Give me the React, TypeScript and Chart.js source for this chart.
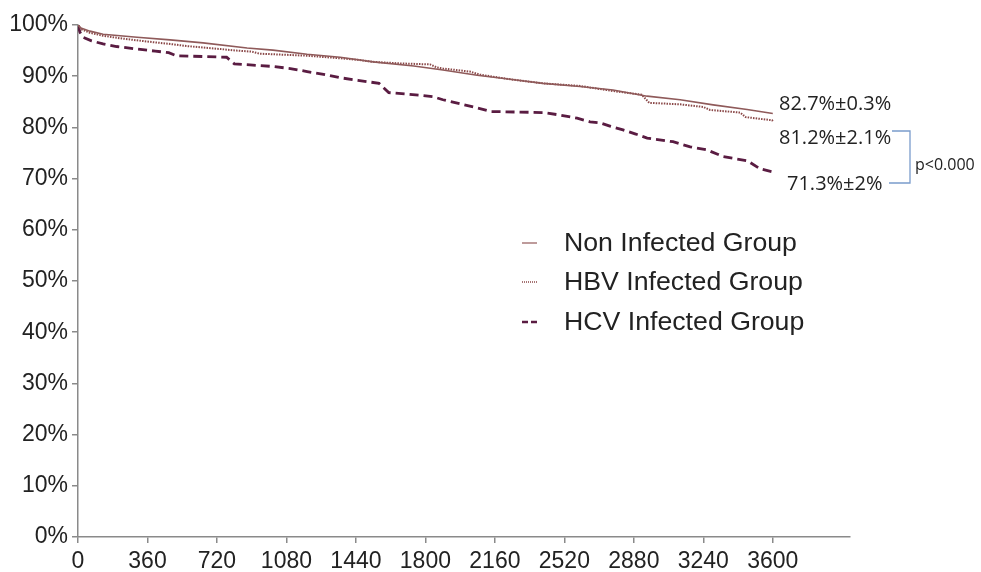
import React, { useEffect, useRef } from 'react';
import { Chart, registerables } from 'chart.js';

Chart.register(...registerables);

// ---- Data ----
const xTickValues = [0, 360, 720, 1080, 1440, 1800, 2160, 2520, 2880, 3240, 3600];
const yTickValues = [0, 10, 20, 30, 40, 50, 60, 70, 80, 90, 100];

const nonInfectedDays = [0, 15, 62, 130, 306, 477, 648, 876, 1010, 1187, 1358, 1529, 1740, 1891, 2068, 2239, 2410, 2601, 2772, 2949, 3120, 3291, 3467, 3600];
const nonInfectedSurv = [100, 99.4, 98.8, 98.2, 97.6, 97.1, 96.5, 95.5, 95.1, 94.3, 93.7, 92.8, 92.0, 91.2, 90.2, 89.4, 88.6, 88.0, 87.3, 86.1, 85.4, 84.4, 83.5, 82.7];

const hbvDays = [0, 20, 60, 130, 220, 306, 400, 477, 560, 648, 740, 824, 900, 940, 1187, 1358, 1450, 1529, 1669, 1824, 1860, 1891, 2031, 2083, 2239, 2410, 2601, 2772, 2920, 2960, 3120, 3239, 3275, 3431, 3460, 3596, 3600];
const hbvSurv = [100, 99.1, 98.5, 97.9, 97.4, 97.0, 96.6, 96.3, 95.9, 95.6, 95.3, 95.0, 94.8, 94.4, 94.0, 93.5, 93.2, 92.8, 92.5, 92.3, 91.7, 91.5, 90.9, 90.3, 89.4, 88.6, 88.1, 87.1, 86.4, 84.8, 84.5, 84.0, 83.4, 82.9, 82.0, 81.4, 81.2];

const hcvDays = [0, 10, 26, 70, 130, 200, 306, 400, 470, 510, 770, 810, 891, 1010, 1100, 1187, 1280, 1358, 1450, 1560, 1610, 1772, 1840, 1891, 1980, 2068, 2140, 2410, 2500, 2586, 2653, 2705, 2760, 2824, 2890, 2949, 3083, 3172, 3260, 3342, 3467, 3535, 3600];
const hcvSurv = [100, 98.6, 97.6, 96.9, 96.3, 95.8, 95.3, 94.9, 94.6, 94.0, 93.7, 92.4, 92.2, 91.9, 91.5, 90.9, 90.3, 89.7, 89.2, 88.6, 86.8, 86.3, 86.0, 85.4, 84.6, 83.8, 83.1, 82.9, 82.4, 81.8, 81.1, 80.9, 80.2, 79.5, 78.7, 77.9, 77.2, 76.2, 75.6, 74.3, 73.5, 71.9, 71.3];

const seriesLabels = ['Non Infected Group', 'HBV Infected Group', 'HCV Infected Group'];
const endLabels = ['82.7%±0.3%', '81.2%±2.1%', '71.3%±2%'];
const pValueLabel = 'p<0.000';

const toPoints = (xs: number[], ys: number[]) => xs.map((x, i) => ({ x, y: ys[i] }));

const COLORS = {
  non: '#8f5a5a',
  nonLegend: '#a87a7a',
  hbv: '#8a4848',
  hcv: '#5a1c42',
  axis: '#8a8a8a',
  text: '#222222',
  bracket: '#7a9ccc',
};

const AXIS_FONT = 'Liberation Sans, Arial, sans-serif';
const NOTE_FONT = 'Open Sans, Noto Sans, sans-serif';

const overlayPlugin = {
  id: 'overlay',
  afterDraw(chart: any) {
    const ctx = chart.ctx as CanvasRenderingContext2D;
    ctx.save();
    // Legend
    const rows = [243, 282, 322];
    ctx.font = `26.7px ${AXIS_FONT}`;
    ctx.fillStyle = COLORS.text;
    ctx.textBaseline = 'middle';
    ctx.textAlign = 'left';
    rows.forEach((y, i) => {
      ctx.save();
      ctx.beginPath();
      if (i === 0) {
        ctx.strokeStyle = COLORS.nonLegend;
        ctx.lineWidth = 1.5;
        ctx.setLineDash([]);
      } else if (i === 1) {
        ctx.strokeStyle = COLORS.hbv;
        ctx.lineWidth = 1.5;
        ctx.setLineDash([1, 1]);
      } else {
        ctx.strokeStyle = COLORS.hcv;
        ctx.lineWidth = 2.5;
        ctx.setLineDash([6, 3]);
      }
      ctx.moveTo(522, y);
      ctx.lineTo(537, y);
      ctx.stroke();
      ctx.restore();
      ctx.fillText(seriesLabels[i], 564, y + 1);
    });

    // End labels
    ctx.font = `20px ${NOTE_FONT}`;
    ctx.fillText(endLabels[0], 779, 104);
    ctx.fillText(endLabels[1], 779, 138);
    ctx.fillText(endLabels[2], 787, 184);

    // Bracket
    ctx.beginPath();
    ctx.strokeStyle = COLORS.bracket;
    ctx.lineWidth = 1.3;
    ctx.setLineDash([]);
    ctx.moveTo(892, 131);
    ctx.lineTo(910, 131);
    ctx.lineTo(910, 183);
    ctx.lineTo(889, 183);
    ctx.stroke();

    ctx.font = `16px ${NOTE_FONT}`;
    ctx.fillStyle = COLORS.text;
    ctx.fillText(pValueLabel, 915, 165);
    ctx.restore();
  },
};

export default function App() {
  const canvasRef = useRef<HTMLCanvasElement | null>(null);

  useEffect(() => {
    document.body.style.margin = '0';
    const canvas = canvasRef.current;
    if (!canvas) return;
    const chart = new Chart(canvas, {
      type: 'line',
      data: {
        datasets: [
          {
            label: seriesLabels[0],
            data: toPoints(nonInfectedDays, nonInfectedSurv),
            borderColor: COLORS.non,
            borderWidth: 1.6,
            pointRadius: 0,
            fill: false,
            tension: 0,
          },
          {
            label: seriesLabels[1],
            data: toPoints(hbvDays, hbvSurv),
            borderColor: COLORS.hbv,
            borderWidth: 2,
            borderDash: [1.5, 1.2],
            pointRadius: 0,
            fill: false,
            tension: 0,
          },
          {
            label: seriesLabels[2],
            data: toPoints(hcvDays, hcvSurv),
            borderColor: COLORS.hcv,
            borderWidth: 2.8,
            borderDash: [9, 5],
            pointRadius: 0,
            fill: false,
            tension: 0,
          },
        ],
      },
      options: {
        animation: false,
        responsive: false,
        devicePixelRatio: 1,
        layout: { padding: { left: 0, top: 25, right: 131, bottom: 0 } },
        plugins: {
          legend: { display: false },
          tooltip: { enabled: false },
        },
        scales: {
          x: {
            type: 'linear',
            min: 0,
            max: 4000,
            afterBuildTicks: (scale: any) => {
              scale.ticks = xTickValues.map((v) => ({ value: v }));
            },
            afterFit: (scale: any) => {
              scale.height = 35;
            },
            ticks: {
              autoSkip: false,
              maxRotation: 0,
              padding: 5,
              color: COLORS.text,
              font: { family: AXIS_FONT, size: 23 },
              callback: (v: any) => String(v),
            },
            grid: {
              display: true,
              drawOnChartArea: false,
              drawTicks: true,
              tickLength: 6,
              color: COLORS.axis,
              lineWidth: 1.5,
            },
            border: { display: true, color: COLORS.axis, width: 1.5 },
          },
          y: {
            type: 'linear',
            min: 0,
            max: 100,
            afterBuildTicks: (scale: any) => {
              scale.ticks = yTickValues.map((v) => ({ value: v }));
            },
            afterFit: (scale: any) => {
              scale.width = 78;
            },
            ticks: {
              padding: 4,
              color: COLORS.text,
              font: { family: AXIS_FONT, size: 23 },
              callback: (v: any) => v + '%',
            },
            grid: {
              display: true,
              drawOnChartArea: false,
              drawTicks: true,
              tickLength: 6,
              color: COLORS.axis,
              lineWidth: 1.5,
            },
            border: { display: true, color: COLORS.axis, width: 1.5 },
          },
        },
      },
      plugins: [overlayPlugin],
    });
    return () => {
      chart.destroy();
    };
  }, []);

  return <canvas ref={canvasRef} width={981} height={572} style={{ display: 'block' }} />;
}
